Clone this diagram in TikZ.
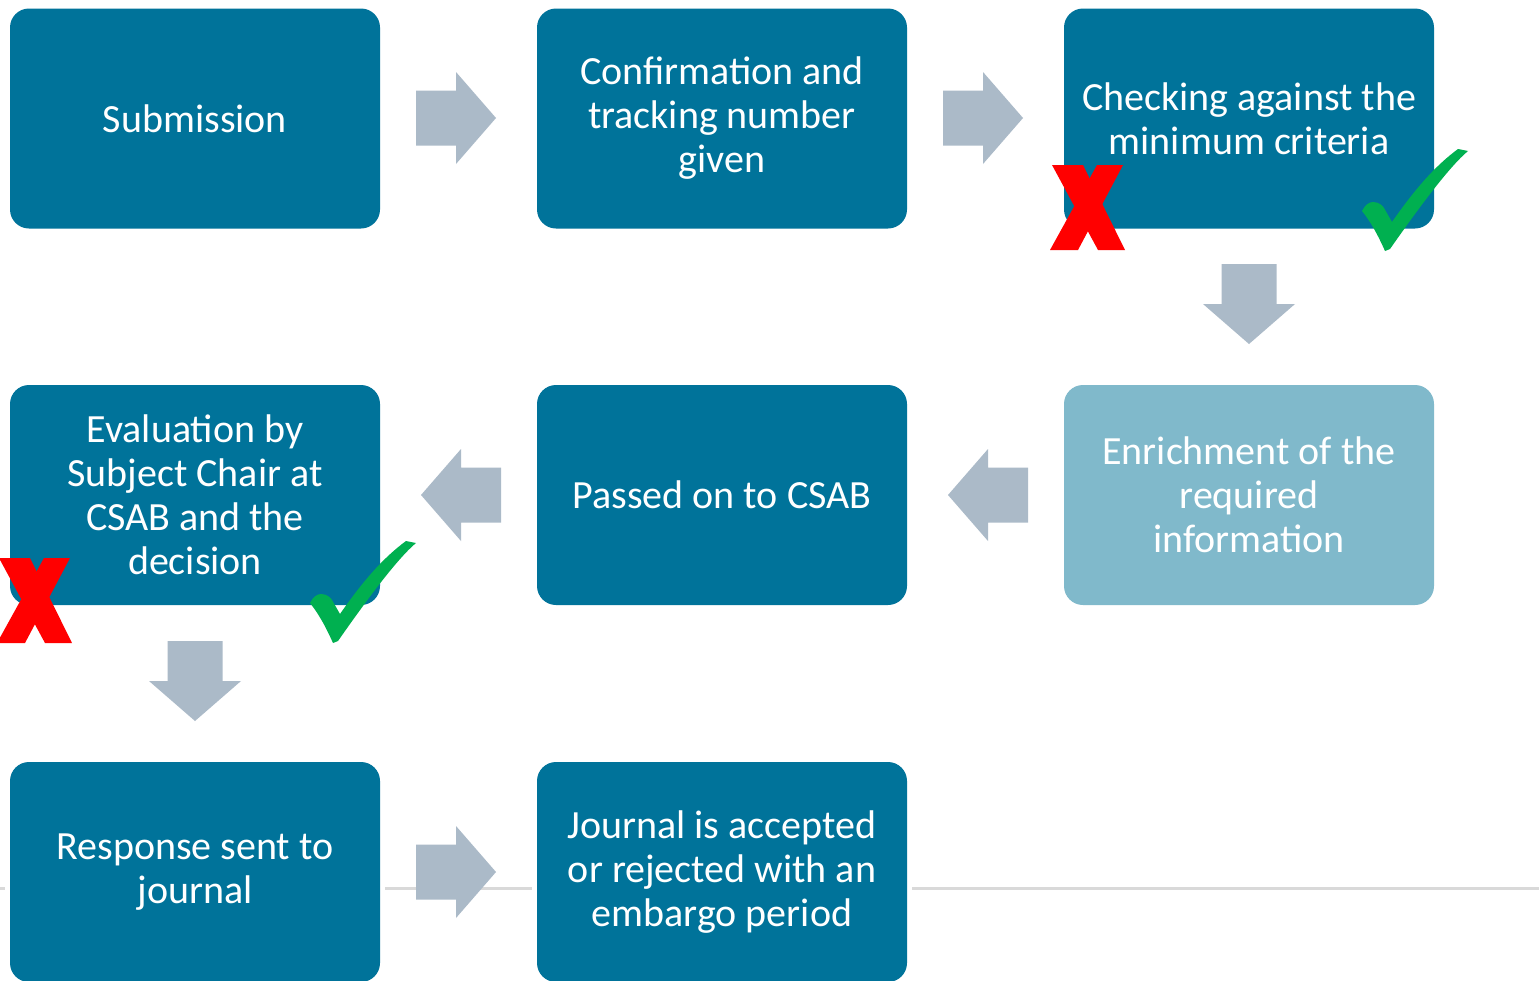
\documentclass[tikz,border=0pt]{standalone}
\usepackage{fontspec}
\setmainfont{Carlito}
\definecolor{boxteal}{HTML}{00739A}
\definecolor{boxlight}{HTML}{80B9CB}
\definecolor{arrowgray}{HTML}{ABBAC8}
\definecolor{lineg}{HTML}{D9D9D9}
\definecolor{checkgreen}{HTML}{00B050}
\definecolor{crossred}{HTML}{FF0000}
\begin{document}
\begin{tikzpicture}[x=1pt,y=-1pt,
  stepbox/.style={rectangle, rounded corners=19pt, fill=boxteal, minimum width=370pt,
    minimum height=220pt, inner sep=0pt, text=white, align=center,
    font=\fontsize{40}{44}\selectfont},
  lightbox/.style={stepbox, fill=boxlight},
  footline/.style={lineg, line width=3pt},
  flowarrow/.pic={\fill[arrowgray] (-40,27.5) -- (0,27.5) -- (0,46) -- (40,0) -- (0,-46) -- (0,-27.5) -- (-40,-27.5) -- cycle;},
  okmark/.pic={\fill[checkgreen] (0,0) .. controls (-8,-18) and (-15,-30) .. (-23,-40)
      .. controls (-20,-46) and (-16,-49) .. (-12,-49) .. controls (-6,-49) and (-2,-45) .. (-1,-43)
      -- (7,-29) .. controls (30,-62) and (50,-85) .. (73,-102) -- (83,-100)
      .. controls (65,-85) and (35,-45) .. (5,-2) -- cycle;},
  nomark/.pic={\fill[crossred] (2,0) -- (33,0) -- (75,85) -- (48,85) -- cycle;
      \fill[crossred] (47,0) -- (73,0) -- (28,85) -- (0,85) -- cycle;}
]
\useasboundingbox (0,0) rectangle (1539,980);
\fill[white] (0,0) rectangle (1539,980);
% footer line
\draw[footline] (0,888) -- (5,888);
\draw[footline] (385,888) -- (532,888);
\draw[footline] (912,888) -- (1539,888);
% boxes
\node[stepbox] (b1) at (195,118.5) {Submission};
\node[stepbox] (b2) at (722,118.5) {Confirmation and\\tracking number\\given};
\node[stepbox] (b3) at (1249,118.5) {Checking against the\\minimum criteria};
\node[lightbox] (b4) at (1249,495) {Enrichment of the\\required\\information};
\node[stepbox] (b5) at (722,495) {Passed on to CSAB};
\node[stepbox] (b6) at (195,495) {Evaluation by\\Subject Chair at\\CSAB and the\\decision};
\node[stepbox] (b7) at (195,872) {Response sent to\\journal};
\node[stepbox] (b8) at (722,872) {Journal is accepted\\or rejected with an\\embargo period};
% arrows
\pic at (456,118) {flowarrow};
\pic at (983,118) {flowarrow};
\pic[rotate=-90] at (1249,304) {flowarrow};
\pic[rotate=180] at (988,495) {flowarrow};
\pic[rotate=180] at (461,495) {flowarrow};
\pic[rotate=-90] at (195,681) {flowarrow};
\pic at (456,872) {flowarrow};
% marks
\pic at (1050,165) {nomark};
\pic at (-3,558) {nomark};
\pic at (1385,251) {okmark};
\pic at (333,643) {okmark};
\end{tikzpicture}
\end{document}
